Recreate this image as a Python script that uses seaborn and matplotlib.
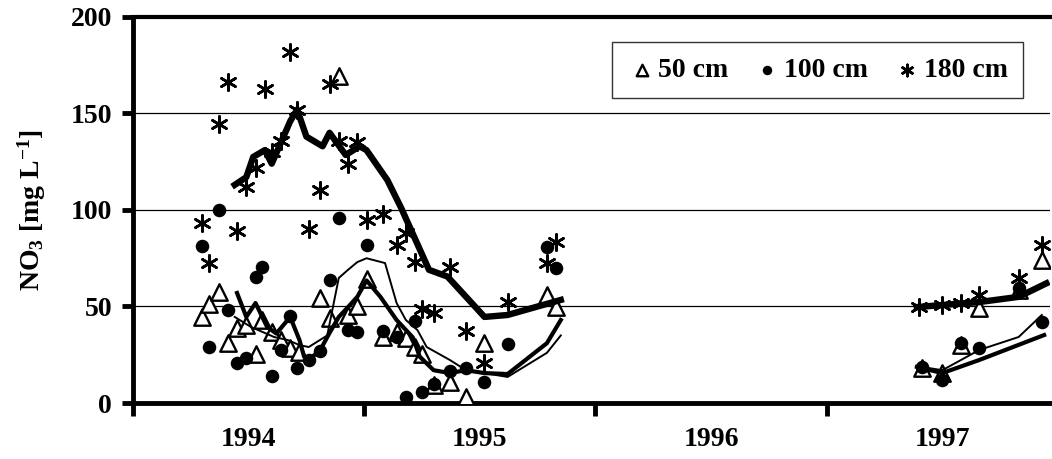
import matplotlib
matplotlib.use('Agg')
import matplotlib.pyplot as plt
import seaborn as sns
import pandas as pd

# sampling dates (decimal years) and measured NO3 [mg/L]
t50 = [1994.30, 1994.33, 1994.37, 1994.41, 1994.45, 1994.49, 1994.53, 1994.56, 1994.60,
       1994.64, 1994.68, 1994.72, 1994.81, 1994.85, 1994.89, 1994.93, 1994.97, 1995.01,
       1995.08, 1995.14, 1995.18, 1995.22, 1995.25, 1995.30, 1995.37, 1995.44, 1995.52,
       1995.79, 1995.83, 1997.41, 1997.50, 1997.58, 1997.66, 1997.83, 1997.93]
no3_50 = [44.6, 51.5, 57.3, 31.3, 38.9, 40.2, 25.6, 43.0, 37.0,
          32.6, 28.5, 26.2, 54.4, 44.0, 169.4, 45.6, 50.3, 64.2,
          34.2, 36.8, 33.7, 29.0, 25.2, 9.3, 10.9, 3.1, 31.0,
          56.0, 49.7, 18.0, 15.5, 30.0, 49.2, 58.5, 74.0]

t100 = [1994.30, 1994.33, 1994.37, 1994.41, 1994.45, 1994.49, 1994.53, 1994.56, 1994.60,
        1994.64, 1994.68, 1994.71, 1994.76, 1994.81, 1994.85, 1994.89, 1994.93, 1994.97,
        1995.01, 1995.08, 1995.14, 1995.18, 1995.22, 1995.25, 1995.30, 1995.37, 1995.44,
        1995.52, 1995.62, 1995.79, 1995.83, 1997.41, 1997.50, 1997.58, 1997.66, 1997.83, 1997.93]
no3_100 = [81.2, 29.0, 100.0, 48.0, 20.7, 23.5, 65.3, 70.5, 14.0,
           27.5, 45.0, 18.0, 22.3, 27.0, 63.7, 95.9, 37.8, 36.8,
           81.9, 37.3, 34.2, 3.1, 42.5, 5.7, 10.0, 16.5, 18.0,
           10.9, 30.6, 81.0, 70.0, 18.7, 12.0, 31.0, 28.5, 59.6, 42.0]

t180 = [1994.30, 1994.33, 1994.37, 1994.41, 1994.45, 1994.49, 1994.53, 1994.57, 1994.60,
        1994.64, 1994.68, 1994.71, 1994.76, 1994.81, 1994.85, 1994.89, 1994.93, 1994.97,
        1995.01, 1995.08, 1995.14, 1995.18, 1995.22, 1995.25, 1995.30, 1995.37, 1995.44,
        1995.52, 1995.62, 1995.79, 1995.83, 1997.40, 1997.50, 1997.58, 1997.66, 1997.83, 1997.93]
no3_180 = [93.3, 72.5, 144.6, 166.3, 89.0, 112.0, 122.0, 162.7, 130.0,
           136.0, 181.9, 152.0, 90.0, 110.4, 165.3, 136.0, 124.0, 135.0,
           94.8, 97.9, 82.0, 88.0, 73.0, 48.5, 46.6, 70.5, 37.5,
           20.7, 52.3, 72.5, 83.4, 49.5, 50.8, 51.8, 56.0, 64.8, 81.9]

# smoothed curves, seg = measuring period
line180_t = [1994.44, 1994.49, 1994.52, 1994.57, 1994.60, 1994.64, 1994.68, 1994.71, 1994.75,
             1994.82, 1994.85, 1994.92, 1994.98, 1995.01, 1995.10, 1995.16, 1995.28, 1995.36,
             1995.52, 1995.62, 1995.85, 1997.39, 1997.66, 1997.83, 1997.95]
line180_v = [113.0, 117.0, 127.5, 131.0, 124.0, 135.0, 146.0, 152.0, 138.0,
             133.0, 140.0, 128.5, 133.0, 131.0, 115.5, 101.0, 69.0, 65.5,
             44.6, 45.6, 53.4, 49.7, 52.3, 55.0, 62.0]
line180_seg = [1] * 21 + [2] * 4

line50_t = [1994.45, 1994.49, 1994.53, 1994.58, 1994.62, 1994.68, 1994.72, 1994.74, 1994.76,
            1994.81, 1994.85, 1994.89, 1994.93, 1994.97, 1995.01, 1995.07, 1995.14, 1995.21,
            1995.24, 1995.30, 1995.37, 1995.44, 1995.52, 1995.62, 1995.79, 1995.85,
            1997.39, 1997.50, 1997.66, 1997.94]
line50_v = [57.0, 44.6, 51.8, 39.4, 36.0, 44.6, 32.6, 24.0, 22.3,
            27.5, 36.3, 44.6, 49.7, 55.0, 63.5, 55.0, 43.0, 34.0,
            24.0, 17.0, 15.5, 17.0, 15.5, 15.0, 31.0, 43.0,
            18.7, 15.5, 22.3, 35.2]
line50_seg = [1] * 26 + [2] * 4

line100_t = [1994.44, 1994.51, 1994.57, 1994.61, 1994.67, 1994.72, 1994.76, 1994.84, 1994.89,
             1994.93, 1994.97, 1995.01, 1995.09, 1995.14, 1995.18, 1995.23, 1995.27, 1995.37,
             1995.44, 1995.52, 1995.62, 1995.79, 1995.85, 1997.41, 1997.50, 1997.66, 1997.83, 1997.93]
line100_v = [44.6, 39.4, 36.3, 34.2, 32.6, 30.0, 29.0, 35.0, 64.8,
             69.0, 73.0, 75.0, 72.5, 51.8, 43.0, 37.8, 29.0, 22.3,
             17.0, 15.5, 13.5, 26.0, 35.0, 18.7, 17.0, 27.5, 34.2, 45.6]
line100_seg = [1] * 23 + [2] * 5

years = ['1994', '1995', '1996', '1997']

plt.rcParams['font.family'] = ['Liberation Serif', 'DejaVu Serif']
plt.rcParams['font.weight'] = 'bold'
plt.rcParams['mathtext.fontset'] = 'custom'
plt.rcParams['mathtext.rm'] = 'Liberation Serif:bold'
plt.rcParams['mathtext.bf'] = 'Liberation Serif:bold'
plt.rcParams['mathtext.it'] = 'Liberation Serif:bold:italic'

fig = plt.figure(figsize=(10.52, 4.59), dpi=100)
ax = fig.add_axes([0.1264, 0.122, 0.8716, 0.841])

pts50 = pd.DataFrame({'t': t50, 'v': no3_50})
pts100 = pd.DataFrame({'t': t100, 'v': no3_100})
pts180 = pd.DataFrame({'t': t180, 'v': no3_180})

sns.scatterplot(data=pts50, x='t', y='v', ax=ax, marker='^', s=140, facecolor='white',
                edgecolor='black', linewidth=1.7, label='50 cm', zorder=3)
sns.scatterplot(data=pts100, x='t', y='v', ax=ax, marker='o', s=95, color='black',
                linewidth=0, label='100 cm', zorder=3)
sns.scatterplot(data=pts180, x='t', y='v', ax=ax, marker=(6, 2, 0), s=135, color='black',
                linewidth=1.9, label='180 cm', zorder=3)

l180 = pd.DataFrame({'t': line180_t, 'v': line180_v, 'seg': line180_seg})
l50 = pd.DataFrame({'t': line50_t, 'v': line50_v, 'seg': line50_seg})
l100 = pd.DataFrame({'t': line100_t, 'v': line100_v, 'seg': line100_seg})

sns.lineplot(data=l180, x='t', y='v', units='seg', estimator=None, ax=ax, color='black',
             lw=4.6, sort=False, zorder=4, legend=False)
sns.lineplot(data=l50, x='t', y='v', units='seg', estimator=None, ax=ax, color='black',
             lw=3.0, sort=False, zorder=4, legend=False)
sns.lineplot(data=l100, x='t', y='v', units='seg', estimator=None, ax=ax, color='black',
             lw=1.4, sort=False, zorder=4, legend=False)

ax.set_xlim(1994.0, 1997.965)
ax.set_ylim(0, 200)
ax.set_yticks([0, 50, 100, 150, 200])
ax.set_xticks([1994, 1995, 1996, 1997])
ax.set_xticklabels([])
ax.set_xticks([1994.5, 1995.5, 1996.5, 1997.5], minor=True)
ax.set_xticklabels(years, minor=True)
ax.tick_params(axis='x', which='major', direction='out', length=9, width=3.5)
ax.tick_params(axis='x', which='minor', length=0, pad=17, labelsize=20)
ax.tick_params(axis='y', direction='out', length=8, width=3.5, pad=7, labelsize=20)

ax.yaxis.grid(True, color='black', lw=0.9)
ax.set_axisbelow(True)
for side in ['left', 'bottom']:
    ax.spines[side].set_linewidth(3.5)
ax.spines['top'].set_linewidth(3.0)
ax.spines['right'].set_visible(False)

ax.set_xlabel('')
ax.set_ylabel('NO$_3$ [mg L$^{-1}$]', fontsize=20, fontweight='bold', labelpad=16)

leg = ax.legend(loc='upper right', bbox_to_anchor=(0.9706, 0.935), borderaxespad=0, ncol=3,
                frameon=True, fancybox=False, edgecolor='black', fontsize=20,
                handletextpad=0.1, columnspacing=0.9, markerscale=0.7, borderpad=0.55,
                handlelength=1.0)
leg.get_frame().set_linewidth(1.0)

fig.savefig('out.png', dpi=100)
